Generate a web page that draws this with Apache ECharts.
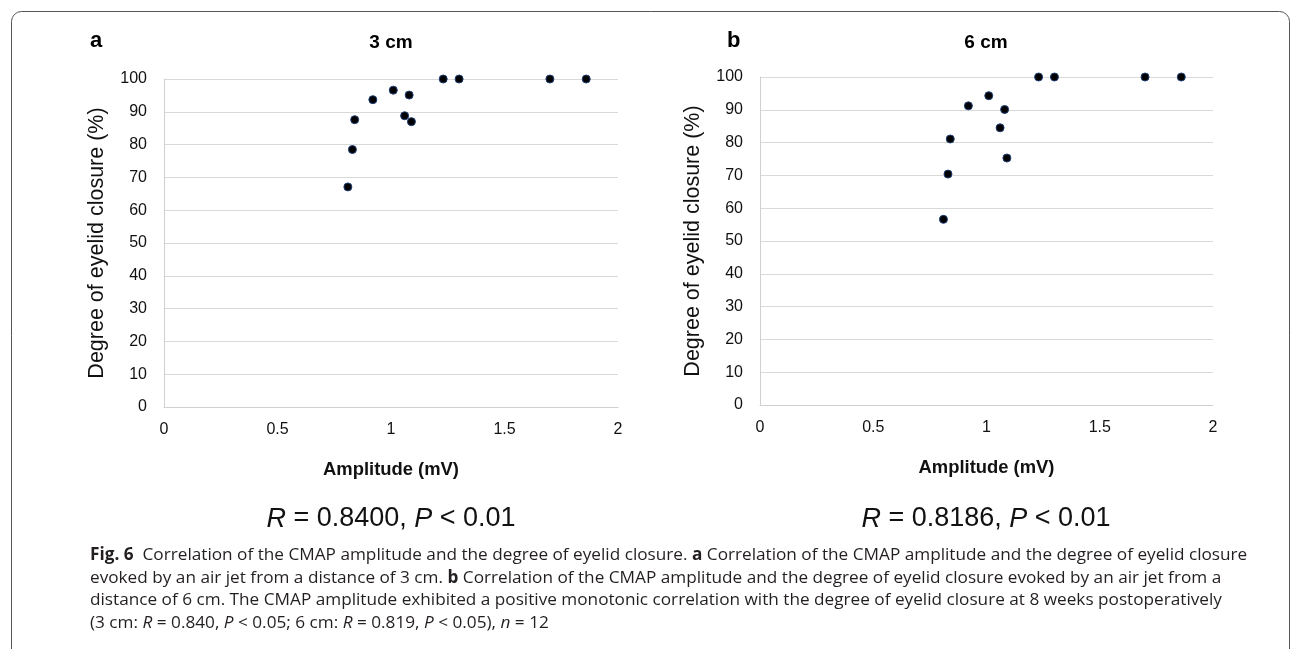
<!DOCTYPE html>
<html>
<head>
<meta charset="utf-8">
<script src="https://cdn.jsdelivr.net/npm/echarts@6/dist/echarts.min.js"></script>
<style>
html,body{margin:0;padding:0;background:#fff;}
#c{width:1293px;height:649px;}
</style>
</head>
<body>
<div id="c"></div>
<script>
// Data
var amplitudeA = [0.81, 0.83, 0.84, 0.92, 1.01, 1.08, 1.06, 1.09, 1.23, 1.30, 1.70, 1.86];
var closureA   = [67.1, 78.5, 87.6, 93.7, 96.6, 95.1, 88.8, 87.0, 100, 100, 100, 100];
var amplitudeB = [0.81, 0.83, 0.84, 0.92, 1.01, 1.08, 1.06, 1.09, 1.23, 1.30, 1.70, 1.86];
var closureB   = [56.6, 70.4, 81.1, 91.2, 94.3, 90.1, 84.5, 75.3, 100, 100, 100, 100];
var xTicks = [0, 0.5, 1, 1.5, 2];
var yTicks = [0, 10, 20, 30, 40, 50, 60, 70, 80, 90, 100];
var panelTitles = ['3 cm', '6 cm'];
var panelLetters = ['a', 'b'];
var statsA = {R: '0.8400', P: '0.01'};
var statsB = {R: '0.8186', P: '0.01'};

function pairs(xs, ys){ return xs.map(function(x,i){ return [x, ys[i]]; }); }

var chart = echarts.init(document.getElementById('c'));
var AF = '"Liberation Sans", Arial, sans-serif';
var CF = '"Open Sans", sans-serif';
var CS = 17.2;

function xAxisCfg(gi){
  return {
    gridIndex: gi, type: 'value', min: xTicks[0], max: xTicks[xTicks.length-1], interval: 0.5,
    name: 'Amplitude (mV)', nameLocation: 'middle', nameGap: 54,
    nameTextStyle: {fontFamily: AF, fontWeight: 'bold', fontSize: 18.4, color: '#111'},
    axisLine: {show: true, lineStyle: {color: '#d0d0d0', width: 1}},
    axisTick: {show: false},
    axisLabel: {fontFamily: AF, fontSize: 16, color: '#111', margin: 15},
    splitLine: {show: false}
  };
}
function yAxisCfg(gi){
  return {
    gridIndex: gi, type: 'value', min: yTicks[0], max: yTicks[yTicks.length-1], interval: 10,
    name: 'Degree of eyelid closure (%)', nameLocation: 'middle', nameGap: 56,
    nameTextStyle: {fontFamily: AF, fontSize: 21.5, color: '#111'},
    axisLine: {show: true, lineStyle: {color: '#d0d0d0', width: 1}},
    axisTick: {show: false},
    axisLabel: {fontFamily: AF, fontSize: 16, color: '#111', margin: 17},
    splitLine: {show: true, lineStyle: {color: '#d9d9d9', width: 1}}
  };
}
function seriesCfg(gi, xs, ys){
  return {
    type: 'scatter', xAxisIndex: gi, yAxisIndex: gi, data: pairs(xs, ys),
    symbol: 'circle', symbolSize: 8,
    itemStyle: {color: '#000', borderColor: '#1f3f77', borderWidth: 1, opacity: 1},
    emphasis: {disabled: true}, silent: true
  };
}
function statText(x, y, s){
  return {
    type: 'text', x: x, y: y,
    style: {
      text: '{i|R} = ' + s.R + ', {i|P} < ' + s.P,
      font: '27px ' + AF, fill: '#111', textAlign: 'center', textVerticalAlign: 'middle',
      rich: {i: {fontStyle: 'italic', fontSize: 27, fontFamily: AF}}
    }
  };
}
function capLine(y, txt){
  return {
    type: 'text', x: 90, y: y,
    style: {
      text: txt, font: CS + 'px ' + CF, fill: '#231f20', textVerticalAlign: 'middle',
      rich: {
        b: {fontWeight: 'bold', fontFamily: CF, fontSize: CS, fill: '#231f20'},
        i: {fontStyle: 'italic', fontFamily: CF, fontSize: CS, fill: '#231f20'}
      }
    }
  };
}

var option = {
  animation: false,
  backgroundColor: '#fff',
  grid: [
    {left: 164, top: 79, width: 454, height: 328, containLabel: false},
    {left: 760, top: 77, width: 453, height: 328, containLabel: false}
  ],
  xAxis: [xAxisCfg(0), xAxisCfg(1)],
  yAxis: [yAxisCfg(0), yAxisCfg(1)],
  series: [seriesCfg(0, amplitudeA, closureA), seriesCfg(1, amplitudeB, closureB)],
  graphic: [
    {type: 'rect', shape: {x: 11.5, y: 11.5, width: 1278, height: 700, r: 10}, silent: true,
     style: {fill: 'none', stroke: '#555', lineWidth: 1}},
    {type: 'text', left: 90, top: 30, style: {text: panelLetters[0], font: 'bold 22px ' + AF, fill: '#000'}},
    {type: 'text', left: 727, top: 30, style: {text: panelLetters[1], font: 'bold 22px ' + AF, fill: '#000'}},
    {type: 'text', x: 391, y: 43, style: {text: panelTitles[0], font: 'bold 19px ' + AF, fill: '#000', textAlign: 'center', textVerticalAlign: 'middle'}},
    {type: 'text', x: 986, y: 43, style: {text: panelTitles[1], font: 'bold 19px ' + AF, fill: '#000', textAlign: 'center', textVerticalAlign: 'middle'}},
    statText(391, 519, statsA),
    statText(986, 519, statsB),
    capLine(555, '{b|Fig. 6}  Correlation of the CMAP amplitude and the degree of eyelid closure. {b|a} Correlation of the CMAP amplitude and the degree of eyelid closure'),
    capLine(578, 'evoked by an air jet from a distance of 3 cm. {b|b} Correlation of the CMAP amplitude and the degree of eyelid closure evoked by an air jet from a'),
    capLine(600, 'distance of 6 cm. The CMAP amplitude exhibited a positive monotonic correlation with the degree of eyelid closure at 8 weeks postoperatively'),
    capLine(623, '(3 cm: {i|R} = 0.840, {i|P} < 0.05; 6 cm: {i|R} = 0.819, {i|P} < 0.05), {i|n} = 12')
  ]
};
chart.setOption(option);
</script>
</body>
</html>
